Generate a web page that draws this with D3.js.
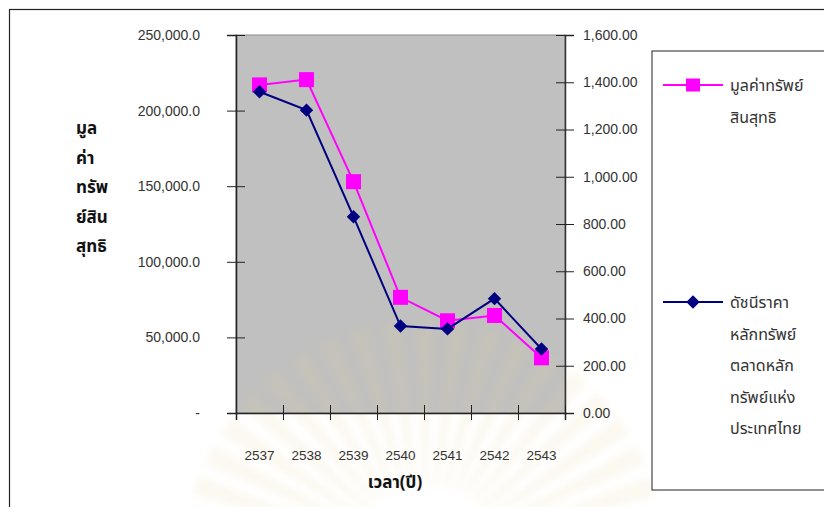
<!DOCTYPE html>
<html>
<head>
<meta charset="utf-8">
<script src="https://cdn.jsdelivr.net/npm/d3@7/dist/d3.min.js"></script>
<style>
  html, body { margin: 0; padding: 0; background: #fff; }
  svg { display: block; }
  .num { font-family: Arial, "Liberation Sans", sans-serif; fill: #333; }
  .thai { font-family: Tahoma, "Noto Sans Thai", "Noto Sans", "DejaVu Sans", sans-serif; fill: #111; }
</style>
</head>
<body>
<svg id="chart" width="824" height="507"></svg>
<script>
// Years on the Thai (Buddhist) calendar
const years = ["2537", "2538", "2539", "2540", "2541", "2542", "2543"];
// Net asset value (left axis)
const netAssetValue = [217000, 220500, 153000, 76500, 61000, 64500, 36500];
// SET index (right axis)
const setIndex = [1360, 1282, 831, 368, 356, 484, 271];
// Axis ticks
const leftTicks = [0, 50000, 100000, 150000, 200000, 250000];
const rightTicks = [0, 200, 400, 600, 800, 1000, 1200, 1400, 1600];
// Titles and legend labels
const yTitleLines = ["มูล", "ค่า", "ทรัพ", "ย์สิน", "สุทธิ"];
const xTitle = "เวลา(ปี)";
const legendNav = ["มูลค่าทรัพย์", "สินสุทธิ"];
const legendSet = ["ดัชนีราคา", "หลักทรัพย์", "ตลาดหลัก", "ทรัพย์แห่ง", "ประเทศไทย"];

const svg = d3.select("#chart");
const plot = { left: 236, right: 565, top: 35, bottom: 413 };

const x = d3.scaleBand().domain(years).range([plot.left, plot.right]).padding(0);
const xEdge = d3.scaleLinear().domain([0, years.length]).range([plot.left, plot.right]);
const yL = d3.scaleLinear().domain([0, 250000]).range([plot.bottom, plot.top]);
const yR = d3.scaleLinear().domain([0, 1600]).range([plot.bottom, plot.top]);

// Outer frame
svg.append("rect").attr("x", 9.5).attr("y", 9.5).attr("width", 830).attr("height", 520)
  .attr("fill", "none").attr("stroke", "#222").attr("stroke-width", 1.2);

// Plot area
svg.append("rect").attr("x", plot.left).attr("y", plot.top)
  .attr("width", plot.right - plot.left).attr("height", plot.bottom - plot.top)
  .attr("fill", "#c0c0c0").attr("stroke", "#8a8a8a").attr("stroke-width", 1);

// Faint sunburst emblem printed behind the lower part of the page
const defs = svg.append("defs");
defs.append("filter").attr("id", "soft").attr("x", "-20%").attr("y", "-20%")
  .attr("width", "140%").attr("height", "140%")
  .append("feGaussianBlur").attr("stdDeviation", 3.5);
const burst = svg.append("g").attr("filter", "url(#soft)").attr("opacity", 0.13)
  .attr("transform", "translate(425,560)");
const rayAngles = d3.range(-170, -9, 8);
burst.selectAll("path").data(rayAngles).join("path")
  .attr("d", a => {
    const r0 = 75, r1 = 240, w0 = 2, w1 = 10;
    const t = a * Math.PI / 180, n = t + Math.PI / 2;
    const p = (r, w, s) => [Math.cos(t) * r + s * Math.cos(n) * w, Math.sin(t) * r + s * Math.sin(n) * w];
    return "M" + [p(r0, w0, 1), p(r1, w1, 1), p(r1, w1, -1), p(r0, w0, -1)].map(q => q.join(",")).join("L") + "Z";
  })
  .attr("fill", "#e2cf8e");

// Left axis
const fmtL = v => v === 0 ? "-" : d3.format(",.1f")(v);
const gL = svg.append("g").attr("transform", `translate(${plot.left},0)`)
  .call(d3.axisLeft(yL).tickValues(leftTicks).tickFormat(fmtL).tickSize(9).tickPadding(27));
gL.select(".domain").attr("stroke", "#222").attr("stroke-width", 1.5);
gL.selectAll(".tick line").attr("x1", 9).attr("stroke", "#222");
gL.selectAll(".tick text").attr("class", "num").attr("font-size", 14);

// Right axis
const gR = svg.append("g").attr("transform", `translate(${plot.right},0)`)
  .call(d3.axisRight(yR).tickValues(rightTicks).tickFormat(d3.format(",.2f")).tickSize(9).tickPadding(9));
gR.select(".domain").attr("stroke", "#333").attr("stroke-width", 1.5);
gR.selectAll(".tick line").attr("x1", -9).attr("stroke", "#222");
gR.selectAll(".tick text").attr("class", "num").attr("font-size", 14);

// Bottom axis: boundary ticks and category labels
const gB = svg.append("g").attr("transform", `translate(0,${plot.bottom})`)
  .call(d3.axisBottom(xEdge).tickValues(d3.range(years.length + 1)).tickFormat("").tickSize(7));
gB.select(".domain").attr("stroke", "#222").attr("stroke-width", 1.5);
gB.selectAll(".tick line").attr("y1", -8).attr("stroke", "#222");

const gBL = svg.append("g").attr("transform", `translate(0,${plot.bottom})`)
  .call(d3.axisBottom(x).tickSize(0).tickPadding(37));
gBL.select(".domain").remove();
gBL.selectAll(".tick text").attr("class", "num").attr("font-size", 13.5);

// Lines and markers
const lineL = d3.line().x((d, i) => x(years[i]) + x.bandwidth() / 2).y(d => yL(d));
const lineR = d3.line().x((d, i) => x(years[i]) + x.bandwidth() / 2).y(d => yR(d));

svg.append("path").datum(netAssetValue).attr("d", lineL)
  .attr("fill", "none").attr("stroke", "#ff00ff").attr("stroke-width", 2);
svg.append("g").selectAll("rect").data(netAssetValue).join("rect")
  .attr("x", (d, i) => x(years[i]) + x.bandwidth() / 2 - 7.5)
  .attr("y", d => yL(d) - 7.5)
  .attr("width", 15).attr("height", 15).attr("fill", "#ff00ff");

const diamond = d3.symbol().type(d3.symbolDiamond2).size(115);
svg.append("path").datum(setIndex).attr("d", lineR)
  .attr("fill", "none").attr("stroke", "#000080").attr("stroke-width", 2);
svg.append("g").selectAll("path").data(setIndex).join("path")
  .attr("d", diamond)
  .attr("transform", (d, i) => `translate(${x(years[i]) + x.bandwidth() / 2},${yR(d)})`)
  .attr("fill", "#000080");

// Axis titles
const yt = svg.append("text").attr("class", "thai").attr("font-size", 17).attr("font-weight", "bold");
yTitleLines.forEach((s, i) => {
  yt.append("tspan").attr("x", 76).attr("y", 134 + i * 29.5).text(s);
});
svg.append("text").attr("class", "thai").attr("x", 395).attr("y", 488)
  .attr("text-anchor", "middle").attr("font-size", 17).attr("font-weight", "bold").text(xTitle);

// Legend
const lg = svg.append("g");
lg.append("rect").attr("x", 652).attr("y", 51).attr("width", 200).attr("height", 439)
  .attr("fill", "#fff").attr("stroke", "#222").attr("stroke-width", 1);

const items = [
  { color: "#ff00ff", shape: "square", lines: legendNav, y: 85 },
  { color: "#000080", shape: "diamond", lines: legendSet, y: 302 }
];
items.forEach(it => {
  lg.append("line").attr("x1", 663).attr("x2", 723).attr("y1", it.y).attr("y2", it.y)
    .attr("stroke", it.color).attr("stroke-width", 2);
  if (it.shape === "square") {
    lg.append("rect").attr("x", 686).attr("y", it.y - 6.5).attr("width", 14).attr("height", 13).attr("fill", it.color);
  } else {
    lg.append("path").attr("d", diamond).attr("transform", `translate(693,${it.y})`).attr("fill", it.color);
  }
  const t = lg.append("text").attr("class", "thai").attr("font-size", 16).style("fill", "#333");
  it.lines.forEach((s, i) => {
    t.append("tspan").attr("x", 730).attr("y", it.y + 6 + i * 31.5).text(s);
  });
});
</script>
</body>
</html>
